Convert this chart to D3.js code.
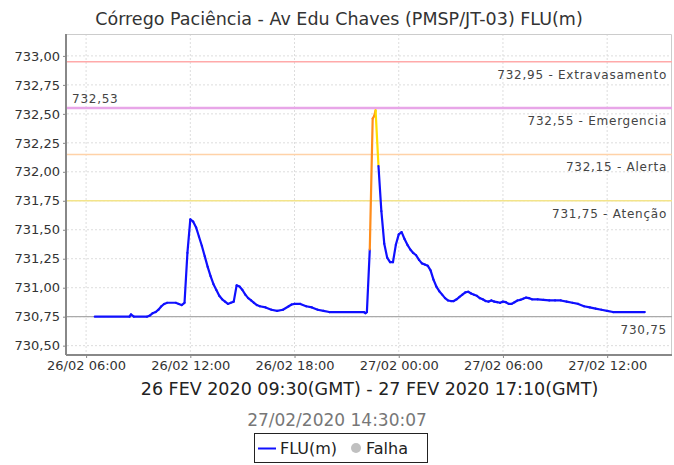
<!DOCTYPE html>
<meta charset="utf-8">
<style>
    body { margin: 0; background: #fff; }
    svg text { font-family: "DejaVu Sans", sans-serif; }
    .axis path, .axis line { stroke: #888; }
    .axis text { font-size: 13px; fill: #333; }
    .grid line { stroke: #ddd; stroke-dasharray: 2,2; }
</style>
<div id="chart"></div>
<script src="https://cdn.jsdelivr.net/npm/d3@7"></script>
<script>
    // leituras (hora local) e nivel FLU(m)
    var times = [
        "26 06:30","26 08:30","26 08:35","26 08:45","26 09:30","26 09:40","26 09:50","26 10:00","26 10:10","26 10:20",
        "26 10:30","26 10:40","26 11:10","26 11:20","26 11:30","26 11:40","26 11:50","26 12:00","26 12:10","26 12:20",
        "26 12:30","26 12:40","26 12:50","26 13:00","26 13:10","26 13:20","26 13:30","26 13:40","26 13:50","26 14:00",
        "26 14:10","26 14:20","26 14:30","26 14:40","26 14:50","26 15:00","26 15:10","26 15:20","26 15:30","26 15:40",
        "26 15:50","26 16:00","26 16:20","26 16:40","26 17:00","26 17:20","26 17:40","26 17:50","26 18:00","26 18:20",
        "26 18:40","26 19:00","26 19:20","26 19:40","26 20:00","26 22:00","26 22:05","26 22:10","26 22:20","26 22:30",
        "26 22:35","26 22:40","26 22:50","26 23:00","26 23:10","26 23:20","26 23:30","26 23:40","26 23:50",
        "27 00:00","27 00:10","27 00:20","27 00:30","27 00:40","27 00:50","27 01:00","27 01:10","27 01:20","27 01:30",
        "27 01:40","27 01:50","27 02:00","27 02:10","27 02:20","27 02:30","27 02:40","27 02:50","27 03:00","27 03:10",
        "27 03:20","27 03:30","27 03:40","27 03:50","27 04:00","27 04:10","27 04:20","27 04:30","27 04:40","27 04:50",
        "27 05:00","27 05:10","27 05:20","27 05:30","27 05:40","27 05:50","27 06:00","27 06:10","27 06:20","27 06:30",
        "27 06:40","27 06:50","27 07:00","27 07:10","27 07:20","27 07:30","27 07:40","27 08:00","27 08:20","27 08:40",
        "27 09:00","27 09:20","27 09:40","27 10:00","27 10:20","27 10:40","27 11:00","27 11:20","27 11:40","27 12:00",
        "27 12:20","27 14:10"
    ];
    var levels = [
        730.75,730.75,730.77,730.75,730.75,730.76,730.78,730.79,730.81,730.84,
        730.86,730.87,730.87,730.86,730.85,730.87,731.30,731.59,731.57,731.52,
        731.44,731.36,731.27,731.18,731.10,731.03,730.98,730.93,730.90,730.88,
        730.86,730.87,730.88,731.02,731.01,730.98,730.94,730.91,730.89,730.87,
        730.85,730.84,730.83,730.81,730.80,730.81,730.84,730.855,730.86,730.86,
        730.84,730.83,730.81,730.80,730.79,730.79,730.78,730.79,731.33,732.46,
        732.48,732.53,732.05,731.66,731.38,731.26,731.22,731.22,731.37,
        731.46,731.48,731.42,731.37,731.33,731.30,731.28,731.24,731.21,731.20,
        731.19,731.15,731.07,731.01,730.97,730.94,730.91,730.89,730.885,730.885,
        730.90,730.92,730.94,730.96,730.965,730.95,730.94,730.93,730.91,730.90,
        730.885,730.88,730.89,730.88,730.875,730.87,730.88,730.875,730.86,730.86,
        730.875,730.89,730.895,730.905,730.915,730.91,730.90,730.90,730.895,730.89,
        730.89,730.89,730.88,730.87,730.86,730.84,730.83,730.82,730.81,730.80,
        730.79,730.79
    ];

    // cotas de referencia
    var limitValues = [732.95, 732.55, 732.15, 731.75];
    var limitNames = ["Extravasamento", "Emergencia", "Alerta", "Atenção"];
    var limitColors = ["#ffaaaa", "#e8a6e8", "#ffd2a8", "#f3e48a"];

    var yTicks = [730.50, 730.75, 731.00, 731.25, 731.50, 731.75, 732.00, 732.25, 732.50, 732.75, 733.00];
    var xTicks = ["26 06:00", "26 12:00", "26 18:00", "27 00:00", "27 06:00", "27 12:00"];
    var xDomain = ["26 04:54", "27 15:44"];
    var yDomain = [730.428, 733.189];

    var title = "Córrego Paciência - Av Edu Chaves (PMSP/JT-03) FLU(m)";
    var subtitle = "26 FEV 2020 09:30(GMT) - 27 FEV 2020 17:10(GMT)";
    var stamp = "27/02/2020 14:30:07";

    var W = 674, H = 465;
    var margin = {top: 34, right: 2, bottom: 111, left: 67},
        width = W - margin.left - margin.right,
        height = H - margin.top - margin.bottom;

    var parse = d3.utcParse("%Y-%m-%d %H:%M");
    function p(s) { return parse("2020-02-" + s); }
    var fmtNum = function (v) { return d3.format(".2f")(v).replace(".", ","); };

    var data = times.map(function (t, i) { return {t: p(t), v: levels[i]}; });

    var x = d3.scaleUtc().domain(xDomain.map(p)).range([0, width]);
    var y = d3.scaleLinear().domain(yDomain).range([height, 0]);

    var svg = d3.select("#chart").append("svg")
        .attr("width", W).attr("height", H);

    svg.append("text")
        .attr("x", W / 2 + 2).attr("y", 25)
        .attr("text-anchor", "middle")
        .style("font-size", "17.5px").attr("fill", "#333")
        .text(title);

    var g = svg.append("g").attr("transform", "translate(" + margin.left + "," + margin.top + ")");

    // grid
    g.append("g").attr("class", "grid")
        .selectAll("line").data(yTicks).enter().append("line")
        .attr("x1", 0).attr("x2", width)
        .attr("y1", function (d) { return y(d); }).attr("y2", function (d) { return y(d); });
    g.append("g").attr("class", "grid")
        .selectAll("line").data(xTicks).enter().append("line")
        .attr("y1", 0).attr("y2", height)
        .attr("x1", function (d) { return x(p(d)); }).attr("x2", function (d) { return x(p(d)); });

    // border top/right
    g.append("path")
        .attr("d", "M0,0.5H" + (width - 0.5) + "V" + height)
        .attr("fill", "none").attr("stroke", "#ccc");

    // limit lines
    limitValues.forEach(function (v, i) {
        g.append("line")
            .attr("x1", 0).attr("x2", width)
            .attr("y1", y(v)).attr("y2", y(v))
            .attr("stroke", limitColors[i])
            .attr("stroke-width", i == 1 ? 2.5 : 1.5);
        g.append("text")
            .attr("x", width - 5).attr("y", y(v) + 17)
            .attr("text-anchor", "end")
            .style("font-size", "12px").style("letter-spacing", "0.75px")
            .attr("fill", "#444")
            .text(fmtNum(v) + " - " + limitNames[i]);
    });

    // min and max markers
    var maxV = d3.max(levels);
    g.append("line")
        .attr("x1", 0).attr("x2", width)
        .attr("y1", y(730.75)).attr("y2", y(730.75))
        .attr("stroke", "#aaa").attr("stroke-width", 1.2);
    g.append("text")
        .attr("x", width - 5).attr("y", y(730.75) + 17)
        .attr("text-anchor", "end")
        .style("font-size", "12px").style("letter-spacing", "0.75px")
        .attr("fill", "#444")
        .text(fmtNum(730.75));
    g.append("text")
        .attr("x", 5).attr("y", y(maxV) - 7)
        .style("font-size", "12px").style("letter-spacing", "0.75px")
        .attr("fill", "#444")
        .text(fmtNum(maxV));

    // axes
    var yAxis = d3.axisLeft(y).tickValues(yTicks).tickFormat(fmtNum).tickSizeOuter(0).tickSize(4);
    var gy = g.append("g").attr("class", "axis").call(yAxis);
    gy.select(".domain").attr("stroke-width", 2).attr("d", "M-1,0V" + (height + 1));

    var xAxis = d3.axisBottom(x).tickValues(xTicks.map(p))
        .tickFormat(d3.utcFormat("%d/%m %H:%M")).tickSizeOuter(0).tickSize(4);
    var gx = g.append("g").attr("class", "axis")
        .attr("transform", "translate(0," + height + ")").call(xAxis);
    gx.select(".domain").attr("stroke-width", 2).attr("d", "M-1,1H" + width);

    // series, segment colour from level reached
    function segColor(v) {
        if (v >= limitValues[2]) return "#ff8c1a";
        if (v >= limitValues[3]) return "#ffdd00";
        return "#1010ff";
    }
    var line = d3.line().x(function (d) { return x(d.t); }).y(function (d) { return y(d.v); });
    var segs = [];
    for (var i = 1; i < data.length; i++) segs.push([data[i - 1], data[i]]);
    g.append("g").selectAll("path").data(segs).enter().append("path")
        .attr("d", line)
        .attr("fill", "none")
        .attr("stroke", function (d) { return segColor(d[1].v); })
        .attr("stroke-width", 2.2)
        .attr("stroke-linecap", "round")
        .attr("stroke-linejoin", "round");

    svg.append("text")
        .attr("x", margin.left + width / 2).attr("y", 395)
        .attr("text-anchor", "middle")
        .style("font-size", "17.5px").attr("fill", "#222")
        .text(subtitle);

    svg.append("text")
        .attr("x", W / 2).attr("y", 426)
        .attr("text-anchor", "middle")
        .style("font-size", "17px").attr("fill", "#777")
        .text(stamp);

    // legend
    var lg = svg.append("g").attr("transform", "translate(254,433)");
    lg.append("rect").attr("x", 0.5).attr("y", 0.5).attr("width", 173).attr("height", 29)
        .attr("fill", "#fff").attr("stroke", "#222");
    lg.append("line").attr("x1", 4).attr("x2", 22).attr("y1", 15.5).attr("y2", 15.5)
        .attr("stroke", "#1010ff").attr("stroke-width", 2);
    lg.append("text").attr("x", 26).attr("y", 21).style("font-size", "16px").attr("fill", "#222").text("FLU(m)");
    lg.append("circle").attr("cx", 102).attr("cy", 15).attr("r", 5).attr("fill", "#c0c0c0");
    lg.append("text").attr("x", 112).attr("y", 21).style("font-size", "16px").attr("fill", "#222").text("Falha");
</script>
